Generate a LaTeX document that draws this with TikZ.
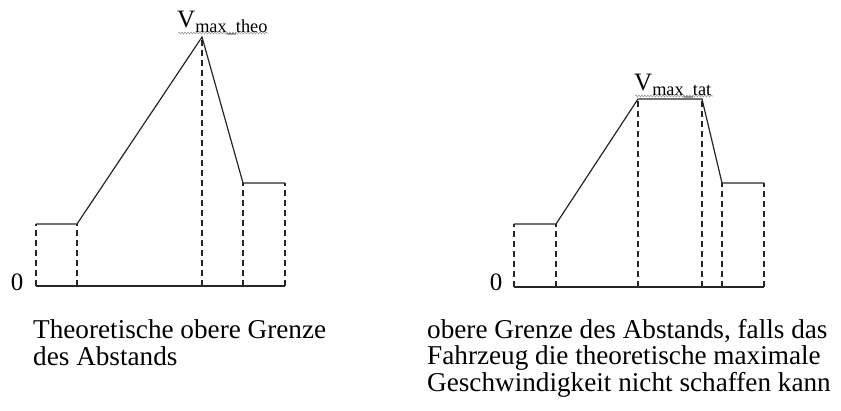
\documentclass[tikz,border=0pt]{standalone}
\usepackage{fontspec}
\setmainfont{Liberation Serif}
\usetikzlibrary{decorations.pathmorphing}
\begin{document}
\begin{tikzpicture}[x=1pt,y=-1pt,
  solidline/.style={line width=1.2pt,black!85},
  dashline/.style={line width=1.8pt,black!85,dash pattern=on 6pt off 4pt},
  caption/.style={inner sep=0pt,anchor=base west,align=left,font=\fontsize{27.2}{26.5}\selectfont},
  zerolbl/.style={inner sep=0pt,anchor=base,font=\fontsize{25}{25}\selectfont},
  vlbl/.style={inner sep=0pt,anchor=base west},
  squiggle/.style={black!40,line width=0.6pt,decorate,decoration={snake,amplitude=0.9pt,segment length=3pt}}]
\useasboundingbox (0,0) rectangle (841,410);
% ---------- left diagram ----------
\coordinate (a0) at (36,286);
\coordinate (a1) at (77,286);
\coordinate (a2) at (202,286);
\coordinate (a3) at (243,286);
\coordinate (a4) at (285,286);
\coordinate (b0) at (36,224);
\coordinate (b1) at (77,224);
\coordinate (b2) at (202,37);
\coordinate (b3) at (243,183);
\coordinate (b4) at (285,183);
\draw[solidline] (a0) -- (a4);
\draw[solidline] (b0) -- (b1) -- (b2) -- (b3) -- (b4);
\foreach \i in {0,...,4} \draw[dashline] (a\i) -- (b\i);
\node[zerolbl] (z1) at (17,290) {0};
\node[vlbl] (v1) at (177,27) {{\fontsize{25}{25}\selectfont V}\raisebox{-5pt}{\fontsize{18.3}{18}\selectfont max\_theo}};
\coordinate (s1a) at (178,33);
\coordinate (s1b) at (268,33);
\draw[squiggle] (s1a) -- (s1b);
\node[caption] (c1) at (33,365) {Theoretische obere Grenze\\des Abstands};
% ---------- right diagram ----------
\coordinate (p0) at (514,287);
\coordinate (p1) at (556,287);
\coordinate (p2) at (638,287);
\coordinate (p3) at (702,287);
\coordinate (p4) at (722,287);
\coordinate (p5) at (764,287);
\coordinate (q0) at (514,224);
\coordinate (q1) at (556,224);
\coordinate (q2) at (638,99);
\coordinate (q3) at (702,99);
\coordinate (q4) at (722,183);
\coordinate (q5) at (764,183);
\draw[solidline] (p0) -- (p5);
\draw[solidline] (q0) -- (q1) -- (q2) -- (q3) -- (q4) -- (q5);
\foreach \i in {0,...,5} \draw[dashline] (p\i) -- (q\i);
\node[zerolbl] (z2) at (496,290) {0};
\node[vlbl] (v2) at (634,90) {{\fontsize{25}{25}\selectfont V}\raisebox{-5pt}{\fontsize{18.3}{18}\selectfont max\_tat}};
\coordinate (s2a) at (635,96);
\coordinate (s2b) at (713,96);
\draw[squiggle] (s2a) -- (s2b);
\node[caption] (c2) at (427,391) {obere Grenze des Abstands, falls das\\Fahrzeug die theoretische maximale\\Geschwindigkeit nicht schaffen kann};
\end{tikzpicture}
\end{document}
